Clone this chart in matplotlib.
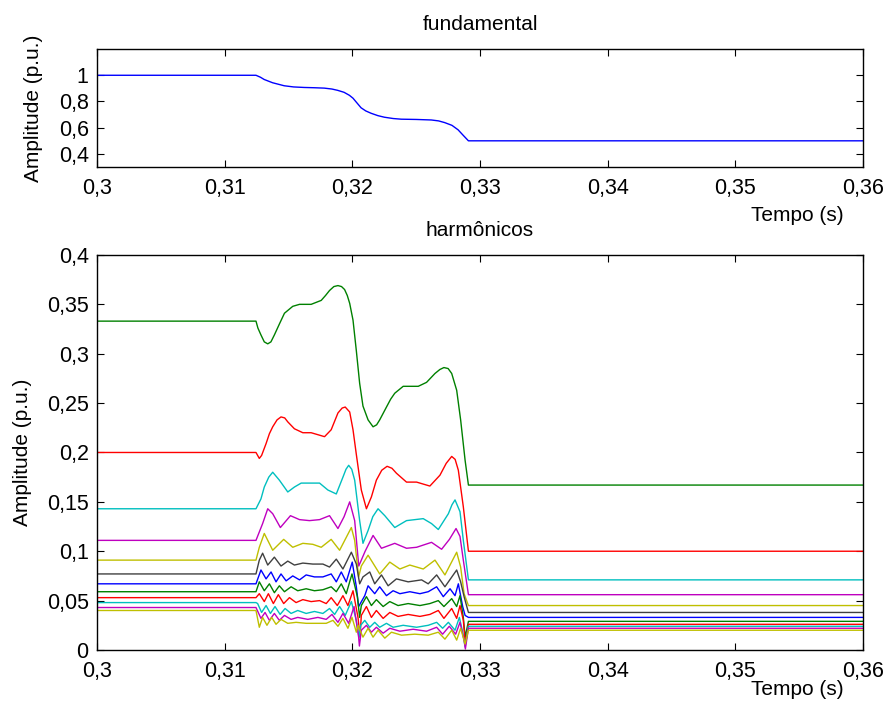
import numpy as np
import matplotlib
matplotlib.use("Agg")
import matplotlib.pyplot as plt
from matplotlib.ticker import FuncFormatter

plt.rcParams['font.family'] = ['Liberation Sans', 'DejaVu Sans']
plt.rcParams['font.size'] = 15

# switching instants (s) and time window
t_on = 0.31245
t_off = 0.32909
t_start, t_end = 0.30, 0.36

# fundamental: level before / after and the transient samples (ms after 0.3 s)
fund_pre, fund_post = 1.0, 0.5
fund_ms = [12.80, 13.09, 13.75, 14.66, 15.40, 16.23, 17.00, 17.80, 18.40, 18.85,
           19.35, 19.77, 20.05, 20.29, 20.68, 21.05, 21.47, 22.00, 22.51, 23.20,
           23.83, 25.00, 26.18, 26.75, 27.23, 27.80, 28.28, 28.70]
fund_amp = [0.985, 0.968, 0.943, 0.920, 0.911, 0.907, 0.905, 0.902, 0.895, 0.885,
            0.870, 0.847, 0.825, 0.797, 0.752, 0.728, 0.710, 0.692, 0.680, 0.670,
            0.665, 0.663, 0.659, 0.652, 0.639, 0.618, 0.584, 0.540]

# harmonics 3..25
orders = [3, 5, 7, 9, 11, 13, 15, 17, 19, 21, 23, 25]
pre_levels = [0.333, 0.200, 0.143, 0.111, 0.091, 0.077, 0.067, 0.059,
              0.053, 0.048, 0.043, 0.040]
post_levels = [0.167, 0.100, 0.071, 0.056, 0.045, 0.038, 0.033, 0.029,
               0.026, 0.024, 0.022, 0.020]
colors = [(0, 0.5, 0), 'r', (0, 0.75, 0.75), (0.75, 0, 0.75), (0.75, 0.75, 0),
          (0.25, 0.25, 0.25), 'b', (0, 0.5, 0), 'r', (0, 0.75, 0.75),
          (0.75, 0, 0.75), (0.75, 0.75, 0)]

h3_ms = [12.60, 12.84, 13.10, 13.37, 13.62, 13.89, 14.28, 14.68, 15.33, 15.86,
         16.77, 17.56, 17.90, 18.21, 18.55, 18.87, 19.15, 19.39, 19.60, 19.79,
         20.05, 20.31, 20.57, 20.83, 21.23, 21.62, 21.90, 22.14, 22.67, 23.00,
         23.32, 23.98, 25.16, 25.81, 26.47, 26.85, 27.17, 27.50, 27.78, 28.17,
         28.48, 28.83]
h3_amp = [0.326, 0.319, 0.312, 0.310, 0.312, 0.319, 0.330, 0.341, 0.348, 0.350,
          0.350, 0.354, 0.359, 0.364, 0.368, 0.369, 0.368, 0.365, 0.359, 0.351,
          0.334, 0.303, 0.270, 0.247, 0.233, 0.226, 0.228, 0.233, 0.246, 0.254,
          0.260, 0.267, 0.267, 0.271, 0.280, 0.284, 0.286, 0.285, 0.280, 0.263,
          0.233, 0.192]

h5_ms = [12.71, 12.89, 13.24, 13.50, 13.76, 14.10, 14.41, 14.70, 14.94, 15.46,
         16.12, 16.77, 17.30, 17.82, 18.34, 18.87, 19.20, 19.44, 19.79, 20.05,
         20.31, 20.70, 21.10, 21.49, 21.88, 22.30, 22.72, 23.10, 23.45, 24.24,
         25.03, 26.07, 26.86, 27.35, 27.78, 28.05, 28.30, 28.69]
h5_amp = [0.194, 0.197, 0.209, 0.219, 0.226, 0.233, 0.236, 0.235, 0.231, 0.224,
          0.220, 0.220, 0.218, 0.216, 0.223, 0.240, 0.245, 0.246, 0.241, 0.223,
          0.198, 0.162, 0.143, 0.155, 0.172, 0.182, 0.186, 0.184, 0.179, 0.170,
          0.170, 0.166, 0.177, 0.189, 0.196, 0.193, 0.182, 0.145]

h7_ms = [12.84, 13.10, 13.45, 13.76, 14.28, 14.94, 15.46, 15.99, 16.77, 17.43,
         18.08, 18.74, 19.26, 19.50, 19.71, 19.95, 20.18, 20.57, 20.83, 21.23,
         21.60, 22.01, 22.54, 23.32, 24.24, 25.55, 26.20, 26.73, 27.52, 27.80,
         28.04, 28.43, 28.69]
h7_amp = [0.153, 0.165, 0.175, 0.180, 0.172, 0.160, 0.165, 0.169, 0.169, 0.169,
          0.162, 0.158, 0.175, 0.183, 0.187, 0.183, 0.172, 0.131, 0.108, 0.121,
          0.135, 0.143, 0.136, 0.124, 0.131, 0.133, 0.128, 0.122, 0.138, 0.147,
          0.152, 0.140, 0.111]

h9_ms = [12.97, 13.37, 13.76, 14.36, 15.15, 15.86, 16.64, 17.43, 18.21, 18.87,
         19.35, 19.79, 20.18, 20.50, 21.00, 21.62, 22.28, 23.32, 24.24, 25.03,
         26.20, 26.99, 27.60, 28.12, 28.43, 28.69]
h9_amp = [0.128, 0.143, 0.138, 0.124, 0.136, 0.132, 0.131, 0.132, 0.136, 0.123,
          0.135, 0.150, 0.131, 0.085, 0.100, 0.116, 0.103, 0.108, 0.103, 0.104,
          0.109, 0.102, 0.112, 0.123, 0.115, 0.091]

h11_ms = [12.71, 13.10, 13.76, 14.62, 15.33, 16.12, 16.90, 17.56, 18.34, 19.00,
          19.92, 20.18, 20.49, 20.70, 21.23, 22.14, 22.93, 23.72, 24.50, 25.55,
          26.47, 27.25, 28.17, 28.48, 28.75]
h11_amp = [0.104, 0.118, 0.101, 0.112, 0.104, 0.108, 0.107, 0.104, 0.112, 0.101,
           0.124, 0.111, 0.074, 0.085, 0.096, 0.077, 0.089, 0.082, 0.086, 0.082,
           0.091, 0.076, 0.099, 0.084, 0.057]

h13_ms = [12.71, 12.97, 13.37, 13.89, 14.41, 14.94, 15.46, 16.12, 16.90, 17.69,
          18.21, 18.74, 19.26, 19.92, 20.31, 20.57, 20.83, 21.36, 21.75, 22.28,
          22.80, 23.45, 24.37, 25.42, 25.94, 26.60, 27.25, 28.17, 28.48, 28.75]
h13_amp = [0.091, 0.098, 0.086, 0.094, 0.085, 0.090, 0.086, 0.088, 0.087, 0.087,
           0.084, 0.092, 0.082, 0.099, 0.087, 0.067, 0.074, 0.079, 0.067, 0.076,
           0.065, 0.072, 0.069, 0.071, 0.067, 0.076, 0.064, 0.081, 0.069, 0.054]

h15_ms = [12.84, 13.24, 13.63, 14.02, 14.41, 14.81, 15.33, 15.86, 16.38, 17.03,
          17.69, 18.34, 18.74, 19.13, 19.52, 19.99, 20.31, 20.49, 20.97, 21.23,
          21.75, 22.14, 22.67, 23.19, 23.72, 24.50, 25.29, 25.94, 26.60, 27.12,
          27.65, 28.04, 28.30, 28.64, 28.83]
h15_amp = [0.081, 0.072, 0.079, 0.069, 0.077, 0.070, 0.075, 0.071, 0.076, 0.074,
           0.074, 0.077, 0.069, 0.079, 0.069, 0.089, 0.064, 0.044, 0.055, 0.065,
           0.057, 0.064, 0.055, 0.060, 0.057, 0.059, 0.057, 0.059, 0.064, 0.054,
           0.062, 0.055, 0.067, 0.044, 0.035]

h17_ms = [12.71, 13.10, 13.50, 13.89, 14.28, 14.68, 15.20, 15.72, 16.38, 17.03,
          17.69, 18.34, 18.74, 19.13, 19.52, 19.97, 20.39, 20.57, 20.70, 21.10,
          21.49, 21.88, 22.41, 22.93, 23.58, 24.37, 25.29, 26.07, 26.73, 27.17,
          27.78, 28.17, 28.43, 28.69, 28.83]
h17_amp = [0.069, 0.060, 0.067, 0.058, 0.065, 0.059, 0.064, 0.060, 0.062, 0.060,
           0.061, 0.064, 0.059, 0.067, 0.057, 0.077, 0.054, 0.033, 0.045, 0.054,
           0.045, 0.051, 0.044, 0.049, 0.045, 0.047, 0.045, 0.047, 0.050, 0.044,
           0.052, 0.044, 0.055, 0.033, 0.013]

h19_ms = [12.71, 13.10, 13.42, 13.81, 14.20, 14.62, 15.07, 15.59, 16.12, 16.77,
          17.43, 17.95, 18.34, 18.82, 19.26, 19.65, 20.05, 20.44, 20.60, 20.70,
          21.10, 21.49, 21.88, 22.41, 22.93, 23.58, 24.37, 25.29, 26.07, 26.73,
          27.17, 27.78, 28.17, 28.43, 28.69, 28.85]
h19_amp = [0.057, 0.049, 0.057, 0.047, 0.056, 0.047, 0.053, 0.048, 0.051, 0.049,
           0.050, 0.047, 0.053, 0.045, 0.055, 0.045, 0.060, 0.033, 0.013, 0.035,
           0.044, 0.033, 0.040, 0.032, 0.038, 0.034, 0.036, 0.034, 0.036, 0.040,
           0.032, 0.042, 0.032, 0.045, 0.030, 0.006]

h21_ms = [12.58, 12.89, 13.24, 13.58, 13.94, 14.34, 14.73, 15.20, 15.72, 16.38,
          17.03, 17.69, 18.21, 18.61, 19.00, 19.44, 19.92, 20.31, 20.52, 20.65,
          20.97, 21.36, 21.75, 22.14, 22.67, 23.19, 23.98, 25.03, 25.94, 26.60,
          27.07, 27.52, 28.04, 28.38, 28.64, 28.83]
h21_amp = [0.047, 0.038, 0.045, 0.037, 0.044, 0.036, 0.042, 0.037, 0.040, 0.037,
           0.039, 0.037, 0.042, 0.036, 0.044, 0.035, 0.049, 0.030, 0.013, 0.025,
           0.030, 0.023, 0.028, 0.023, 0.027, 0.023, 0.025, 0.023, 0.025, 0.028,
           0.022, 0.028, 0.020, 0.033, 0.018, 0.003]

h23_ms = [12.84, 13.16, 13.50, 13.89, 14.28, 14.68, 15.20, 15.72, 16.51, 17.30,
          17.95, 18.40, 18.87, 19.26, 19.71, 20.13, 20.49, 20.55, 20.70, 21.10,
          21.49, 21.88, 22.41, 22.93, 23.72, 24.76, 25.81, 26.60, 27.07, 27.59,
          28.09, 28.43, 28.75, 28.85]
h23_amp = [0.032, 0.038, 0.030, 0.037, 0.030, 0.035, 0.031, 0.033, 0.031, 0.033,
           0.031, 0.036, 0.028, 0.037, 0.027, 0.044, 0.013, 0.004, 0.020, 0.025,
           0.018, 0.023, 0.017, 0.022, 0.019, 0.021, 0.019, 0.023, 0.016, 0.024,
           0.016, 0.028, 0.010, 0.001]

h25_ms = [12.71, 12.97, 13.31, 13.68, 14.02, 14.41, 14.94, 15.59, 16.38, 17.17,
          17.95, 18.48, 18.87, 19.26, 19.65, 19.97, 20.31, 20.44, 20.83, 21.23,
          21.62, 22.01, 22.54, 23.06, 23.85, 24.89, 25.94, 26.73, 27.25, 27.78,
          28.17, 28.48, 28.83]
h25_amp = [0.023, 0.033, 0.025, 0.033, 0.026, 0.031, 0.027, 0.028, 0.027, 0.027,
           0.027, 0.030, 0.024, 0.032, 0.022, 0.033, 0.018, 0.025, 0.013, 0.022,
           0.013, 0.020, 0.012, 0.018, 0.015, 0.016, 0.015, 0.018, 0.011, 0.020,
           0.010, 0.022, 0.006]

trans_ms = [h3_ms, h5_ms, h7_ms, h9_ms, h11_ms, h13_ms, h15_ms, h17_ms,
            h19_ms, h21_ms, h23_ms, h25_ms]
trans_amp = [h3_amp, h5_amp, h7_amp, h9_amp, h11_amp, h13_amp, h15_amp,
             h17_amp, h19_amp, h21_amp, h23_amp, h25_amp]


def build(pre, ms, amp, post):
    t = np.concatenate([[t_start, t_on], t_start + np.array(ms) / 1000.0,
                        [t_off, t_end]])
    v = np.concatenate([[pre, pre], amp, [post, post]])
    return t, v


def comma(x, pos):
    s = ('%.2f' % x).rstrip('0').rstrip('.')
    return s.replace('.', ',')


def style(ax):
    ax.tick_params(direction='in', top=True, right=True, length=5, width=0.8,
                   labelsize=15.5, pad=6)
    ax.tick_params(axis='x', pad=8)
    for sp in ax.spines.values():
        sp.set_linewidth(1.0)
    ax.xaxis.set_major_formatter(FuncFormatter(comma))
    ax.yaxis.set_major_formatter(FuncFormatter(comma))


fig = plt.figure(figsize=(8.87, 7.12), dpi=100)
ax1 = fig.add_axes([0.1094, 0.7654, 0.8636, 0.1657])
ax2 = fig.add_axes([0.1094, 0.0871, 0.8636, 0.5548])

t, v = build(fund_pre, fund_ms, fund_amp, fund_post)
ax1.plot(t, v, color='b', lw=1.0)
ax1.set_xlim(t_start, t_end)
ax1.set_ylim(0.3, 1.2)
ax1.set_xticks(np.arange(0.30, 0.3601, 0.01))
ax1.set_yticks([0.4, 0.6, 0.8, 1.0])
style(ax1)
ax1.set_title('fundamental', fontsize=15, pad=14)
ax1.set_ylabel('Amplitude (p.u.)', fontsize=15)
ax1.yaxis.set_label_coords(-0.071, 0.5)
ax1.set_xlabel('Tempo (s)', fontsize=15)
ax1.xaxis.set_label_coords(0.914, -0.33)

for i in range(len(orders)):
    t, v = build(pre_levels[i], trans_ms[i], trans_amp[i], post_levels[i])
    ax2.plot(t, v, color=colors[i], lw=1.0)
ax2.set_xlim(t_start, t_end)
ax2.set_ylim(0, 0.4)
ax2.set_xticks(np.arange(0.30, 0.3601, 0.01))
ax2.set_yticks(np.arange(0, 0.401, 0.05))
style(ax2)
ax2.set_title('harmônicos', fontsize=15, pad=14)
ax2.set_ylabel('Amplitude (p.u.)', fontsize=15)
ax2.yaxis.set_label_coords(-0.085, 0.5)
ax2.set_xlabel('Tempo (s)', fontsize=15)
ax2.xaxis.set_label_coords(0.914, -0.075)

fig.savefig('out.png', dpi=100)
